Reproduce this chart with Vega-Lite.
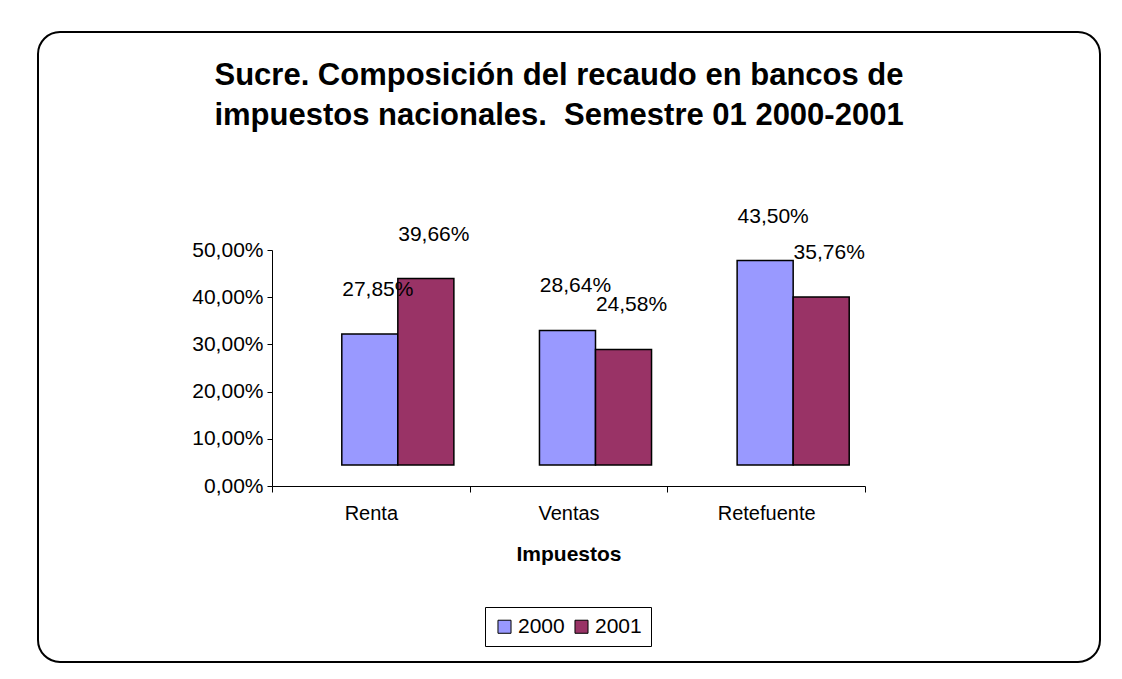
{
  "$schema": "https://vega.github.io/schema/vega-lite/v6.json",
  "width": 1062,
  "height": 630,
  "autosize": {"type": "none"},
  "padding": {"left": 38, "top": 32, "right": 22, "bottom": 17},
  "background": "white",
  "config": {
    "locale": {"number": {"decimal": ",", "thousands": ".", "grouping": [3], "currency": ["", " €"]}},
    "font": "Liberation Sans",
    "view": {"stroke": "black", "strokeWidth": 2, "cornerRadius": 22},
    "axis": {"labelColor": "black", "domainColor": "black", "tickColor": "black", "titleColor": "black", "labelFont": "Liberation Sans", "titleFont": "Liberation Sans", "grid": false}
  },
  "title": {
    "text": ["Sucre. Composición del recaudo en bancos de", "impuestos nacionales.\u00a0 Semestre 01 2000-2001"],
    "fontSize": 31,
    "fontWeight": "bold",
    "font": "Liberation Sans",
    "color": "black",
    "anchor": "middle",
    "offset": -100,
    "lineHeight": 40,
    "dx": -10
  },
  "data": {
    "values": [
      {"Impuesto": "Renta", "Año": "2000", "valor": 0.2785},
      {"Impuesto": "Renta", "Año": "2001", "valor": 0.3966},
      {"Impuesto": "Ventas", "Año": "2000", "valor": 0.2864},
      {"Impuesto": "Ventas", "Año": "2001", "valor": 0.2458},
      {"Impuesto": "Retefuente", "Año": "2000", "valor": 0.4350},
      {"Impuesto": "Retefuente", "Año": "2001", "valor": 0.3576}
    ]
  },
  "layer": [
    {
      "mark": {"type": "bar", "opacity": 0},
      "encoding": {
        "x": {
          "field": "Impuesto", "type": "nominal", "sort": ["Renta", "Ventas", "Retefuente"],
          "scale": {"range": [234, 827], "paddingInner": 0, "paddingOuter": 0},
          "axis": {"offset": -176, "labelAngle": 0, "labelFontSize": 20, "tickBand": "extent", "tickSize": 6, "labelPadding": 11, "title": "Impuestos", "titleFontSize": 21, "titleFontWeight": "bold", "titlePadding": 20}
        },
        "y": {
          "field": "valor", "type": "quantitative",
          "scale": {"domain": [0, 0.5], "range": [454, 218], "nice": false, "zero": true},
          "axis": {"offset": -234, "values": [0, 0.1, 0.2, 0.3, 0.4, 0.5], "format": ".2%", "labelFontSize": 21, "tickSize": 5, "labelPadding": 4, "title": null}
        }
      }
    },
    {
      "encoding": {
        "x": {
          "field": "Impuesto", "type": "nominal", "sort": ["Renta", "Ventas", "Retefuente"],
          "scale": {"range": [261, 854], "paddingInner": 0.433, "paddingOuter": 0.2165},
          "axis": null
        },
        "xOffset": {"field": "Año", "type": "nominal"},
        "y": {
          "field": "valor", "type": "quantitative",
          "scale": {"domain": [0, 0.5], "range": [433, 198], "nice": false},
          "axis": null
        }
      },
      "layer": [
        {
          "mark": {"type": "bar", "stroke": "black", "strokeWidth": 1.5},
          "encoding": {
            "color": {
              "field": "Año", "type": "nominal",
              "scale": {"range": ["#9999FF", "#993366"]},
              "legend": {
                "orient": "none", "legendX": 447, "legendY": 575, "direction": "horizontal",
                "title": null, "strokeColor": "black", "padding": 9, "fillColor": "white",
                "symbolType": "square", "symbolSize": 170, "symbolStrokeColor": "black", "symbolStrokeWidth": 1,
                "labelFontSize": 21, "labelFont": "Liberation Sans", "labelColor": "black", "columnPadding": 6, "labelOffset": 3
              }
            }
          }
        },
        {
          "mark": {"type": "text", "dy": -44, "dx": 8, "fontSize": 21, "font": "Liberation Sans", "color": "black"},
          "encoding": {
            "text": {"field": "valor", "type": "quantitative", "format": ".2%"}
          }
        }
      ]
    }
  ],
  "resolve": {"scale": {"x": "independent", "y": "independent"}}
}
